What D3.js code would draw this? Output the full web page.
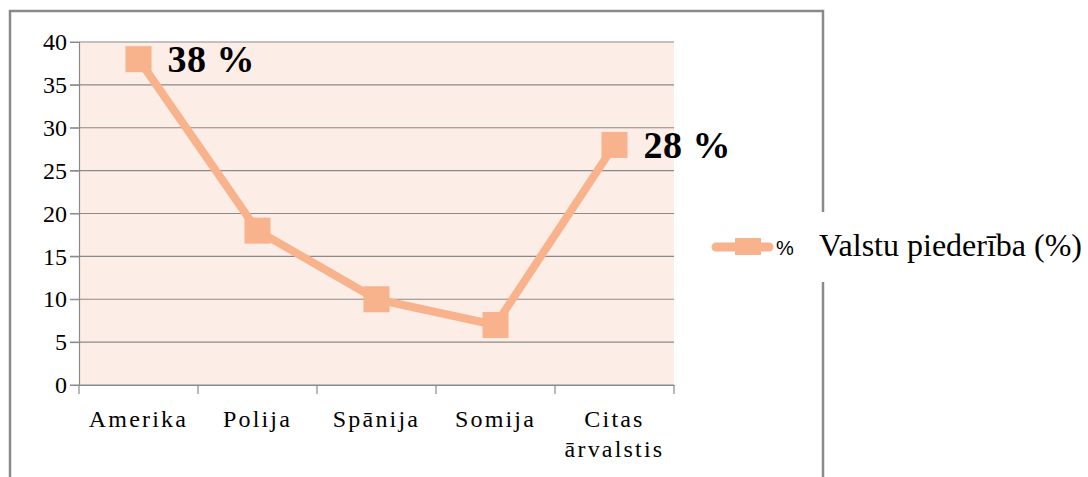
<!DOCTYPE html>
<html lang="lv">
<head>
  <meta charset="UTF-8">
  <title>Valstu piederība (%)</title>
  <script src="https://d3js.org/d3.v7.min.js"></script>
  <style>
    body { margin: 0; background: #ffffff; }
    svg text { font-family: "Liberation Serif", "Times New Roman", serif; fill: #000; }
  </style>
</head>
<body>
<svg width="1088" height="477"></svg>
<script>
  const categories = ["Amerika", "Polija", "Spānija", "Somija", "Citas ārvalstis"];
  const values = [38, 18, 10, 7, 28];
  const yTicks = [0, 5, 10, 15, 20, 25, 30, 35, 40];
  const labelled = ["Amerika", "Citas ārvalstis"];
  const seriesName = "%";
  const legendTitle = "Valstu piederība (%)";

  const svg = d3.select("svg");
  const lineColor = "#f8b28c";
  const gridColor = "#8a8a8a";

  // outer frame
  svg.append("rect")
    .attr("x", 10).attr("y", 11)
    .attr("width", 813).attr("height", 500)
    .attr("fill", "none")
    .attr("stroke", "#8a8a8a")
    .attr("stroke-width", 2.5);

  const x = d3.scaleBand().domain(categories).range([79, 674]);
  const y = d3.scaleLinear().domain([0, 40]).range([385, 42]);

  svg.append("rect")
    .attr("x", 79).attr("y", y(40))
    .attr("width", 674 - 79).attr("height", y(0) - y(40))
    .attr("fill", "#fcede7");

  // grid
  svg.append("g")
    .selectAll("line")
    .data(yTicks)
    .join("line")
    .attr("x1", 70).attr("x2", 674)
    .attr("y1", d => y(d)).attr("y2", d => y(d))
    .attr("stroke", gridColor)
    .attr("stroke-width", 1.2);

  // y axis
  const yAxis = svg.append("g")
    .attr("transform", "translate(79,0)")
    .call(d3.axisLeft(y).tickValues(yTicks).tickSize(9).tickPadding(3));
  yAxis.attr("font-family", null).attr("font-size", null);
  yAxis.select(".domain").attr("stroke", gridColor).attr("stroke-width", 1.2);
  yAxis.selectAll(".tick line").attr("stroke", gridColor);
  yAxis.selectAll("text")
    .style("font-family", "'Liberation Serif', serif")
    .style("font-size", "24px")
    .attr("fill", "#000");

  // x axis
  const xAxis = svg.append("g")
    .attr("transform", `translate(0,${y(0)})`)
    .call(d3.axisBottom(x).tickSize(0).tickFormat(""));
  xAxis.select(".domain").attr("stroke", gridColor).attr("stroke-width", 1.2);
  const bounds = categories.map(c => x(c)).concat([x.range()[1]]);
  xAxis.selectAll(".sep")
    .data(bounds)
    .join("line")
    .attr("class", "sep")
    .attr("x1", d => d).attr("x2", d => d)
    .attr("y1", 0).attr("y2", 9)
    .attr("stroke", gridColor)
    .attr("stroke-width", 1.2);

  svg.append("g")
    .selectAll("text")
    .data(categories)
    .join("text")
    .attr("x", d => x(d) + x.bandwidth() / 2)
    .attr("y", 427)
    .attr("text-anchor", "middle")
    .style("font-size", "24px")
    .style("letter-spacing", "2.2px")
    .each(function(d) {
      const parts = d.split(" ");
      d3.select(this).selectAll("tspan")
        .data(parts)
        .join("tspan")
        .attr("x", x(d) + x.bandwidth() / 2)
        .attr("dy", (p, i) => i === 0 ? 0 : 30)
        .text(p => p);
    });

  // line
  const cx = d => x(d) + x.bandwidth() / 2;
  const line = d3.line()
    .x((d, i) => cx(categories[i]))
    .y(d => y(d));

  svg.append("path")
    .datum(values)
    .attr("d", line)
    .attr("fill", "none")
    .attr("stroke", lineColor)
    .attr("stroke-width", 8)
    .attr("stroke-linejoin", "round");

  svg.append("g")
    .selectAll("rect")
    .data(values)
    .join("rect")
    .attr("x", (d, i) => cx(categories[i]) - 13)
    .attr("y", d => y(d) - 13)
    .attr("width", 26).attr("height", 26)
    .attr("fill", lineColor);

  // data labels
  svg.append("g")
    .selectAll("text")
    .data(values.map((v, i) => ({ c: categories[i], v })).filter(d => labelled.includes(d.c)))
    .join("text")
    .attr("x", d => cx(d.c) + 29)
    .attr("y", d => y(d.v) + 13)
    .style("font-size", "38px")
    .style("font-weight", "bold")
    .style("letter-spacing", "0.5px")
    .text(d => `${d.v} %`);

  // legend
  const lg = svg.append("g").attr("transform", "translate(0,247)");
  lg.append("rect")
    .attr("x", 705).attr("y", -35)
    .attr("width", 383).attr("height", 70)
    .attr("fill", "#ffffff");
  lg.append("line")
    .attr("x1", 716).attr("x2", 769)
    .attr("y1", 0).attr("y2", 0)
    .attr("stroke", lineColor)
    .attr("stroke-width", 9)
    .attr("stroke-linecap", "round");
  lg.append("rect")
    .attr("x", 735).attr("y", -9)
    .attr("width", 26).attr("height", 17)
    .attr("fill", lineColor);
  lg.append("text")
    .attr("x", 776).attr("y", 8)
    .style("font-family", "'Liberation Sans', Arial, sans-serif")
    .style("font-size", "20px")
    .attr("fill", "#333")
    .text(seriesName);
  lg.append("text")
    .attr("x", 819).attr("y", 9)
    .style("font-size", "32px")
    .text(legendTitle);
</script>
</body>
</html>
